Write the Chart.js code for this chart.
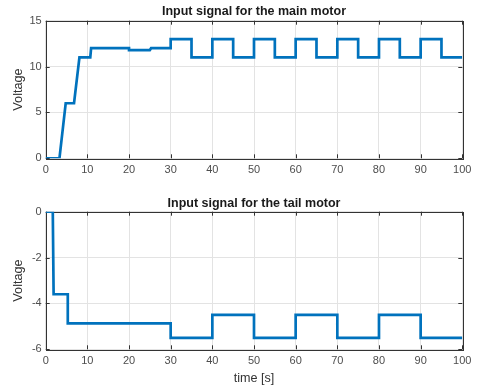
<!DOCTYPE html>
<html lang="en">
<head>
  <meta charset="UTF-8" />
  <title>Input signals</title>
  <script src="https://cdn.jsdelivr.net/npm/chart.js"></script>
  <style>
    html, body { margin: 0; padding: 0; background: #fff; }
    body { width: 477px; height: 389px; position: relative; overflow: hidden; }
    .plot { position: absolute; left: 0; width: 477px; }
    #mainBox { top: 0; height: 190px; }
    #tailBox { top: 190px; height: 199px; }
  </style>
</head>
<body>
  <div id="mainBox" class="plot"><canvas id="mainChart"></canvas></div>
  <div id="tailBox" class="plot"><canvas id="tailChart"></canvas></div>

  <script>
    // breakpoints
    const mainTime = [0, 3.3, 4.8, 6.8, 8.1, 10.7, 10.9, 20, 20, 25, 25.3, 30, 30, 35, 35, 40, 40, 45, 45, 50, 50, 55, 55, 60, 60, 65, 65, 70, 70, 75, 75, 80, 80, 85, 85, 90, 90, 95, 95, 100];
    const mainVolt = [0, 0, 6, 6, 11, 11, 12, 12, 11.8, 11.8, 12, 12, 13, 13, 11, 11, 13, 13, 11, 11, 13, 13, 11, 11, 13, 13, 11, 11, 13, 13, 11, 11, 13, 13, 11, 11, 13, 13, 11, 11];
    const tailTime = [0, 1.7, 1.9, 5.3, 5.3, 30, 30, 40, 40, 50, 50, 60, 60, 70, 70, 80, 80, 90, 90, 100];
    const tailVolt = [0, 0, -3.6, -3.6, -4.87, -4.87, -5.5, -5.5, -4.5, -4.5, -5.5, -5.5, -4.5, -4.5, -5.5, -5.5, -4.5, -4.5, -5.5, -5.5];

    const timeTicks = [0, 10, 20, 30, 40, 50, 60, 70, 80, 90, 100];
    const mainTicks = [0, 5, 10, 15];
    const tailTicks = [-6, -4, -2, 0];

    const FONT = "'Liberation Sans', Arial, Helvetica, sans-serif";

    // MATLAB style box with inward tick marks
    const boxPlugin = {
      id: 'box',
      beforeDatasetsDraw(chart) {
        const { ctx, chartArea: a, scales } = chart;
        ctx.save();
        ctx.strokeStyle = '#333';
        ctx.lineWidth = 1;
        ctx.beginPath();
        scales.x.ticks.forEach(t => {
          const px = Math.round(scales.x.getPixelForValue(t.value)) + 0.5;
          ctx.moveTo(px, a.bottom); ctx.lineTo(px, a.bottom - 4);
          ctx.moveTo(px, a.top); ctx.lineTo(px, a.top + 4);
        });
        scales.y.ticks.forEach(t => {
          const py = Math.round(scales.y.getPixelForValue(t.value)) + 0.5;
          ctx.moveTo(a.left, py); ctx.lineTo(a.left + 4, py);
          ctx.moveTo(a.right, py); ctx.lineTo(a.right - 4, py);
        });
        ctx.stroke();
        ctx.strokeRect(Math.round(a.left) + 0.5, Math.round(a.top) + 0.5,
          Math.round(a.right - a.left), Math.round(a.bottom - a.top));
        ctx.restore();
      }
    };

    function makeChart(id, time, volt, yTicks, titleText, dims) {
      const ctx = document.getElementById(id).getContext('2d');
      return new Chart(ctx, {
        type: 'line',
        data: {
          datasets: [{
            data: time.map((t, i) => ({ x: t, y: volt[i] })),
            borderColor: '#0072BD',
            borderWidth: 2.7,
            pointRadius: 0,
            tension: 0,
            fill: false
          }]
        },
        options: {
          responsive: true,
          maintainAspectRatio: false,
          animation: false,
          layout: { padding: { left: 0, right: 14.7, top: 0, bottom: 0 } },
          plugins: {
            legend: { display: false },
            tooltip: { enabled: false },
            title: {
              display: true,
              text: titleText,
              fullSize: false,
              color: '#1a1a1a',
              font: { family: FONT, size: 12.5, weight: 'bold', lineHeight: 1.2 },
              padding: dims.titlePad
            }
          },
          scales: {
            x: {
              type: 'linear',
              min: 0,
              max: 100,
              afterBuildTicks: s => { s.ticks = timeTicks.map(v => ({ value: v })); },
              afterFit: s => { s.height = dims.xHeight; },
              grid: { color: '#e3e3e3', tickLength: 0, drawTicks: false },
              border: { display: false },
              ticks: { color: '#4d4d4d', padding: 5, maxRotation: 0, font: { family: FONT, size: 11 } },
              title: {
                display: !!dims.xTitle,
                text: dims.xTitle || '',
                color: '#333',
                font: { family: FONT, size: 12.6 },
                padding: { top: 0, bottom: 3 }
              }
            },
            y: {
              min: yTicks[0],
              max: yTicks[yTicks.length - 1],
              afterBuildTicks: s => { s.ticks = yTicks.map(v => ({ value: v })); },
              afterFit: s => { s.width = 45.7; },
              grid: { color: '#e3e3e3', tickLength: 0, drawTicks: false },
              border: { display: false },
              ticks: { color: '#4d4d4d', padding: 4, font: { family: FONT, size: 11 } },
              title: {
                display: true,
                text: 'Voltage',
                color: '#333',
                font: { family: FONT, size: 12.7 },
                padding: { top: 11, bottom: 0 }
              }
            }
          }
        },
        plugins: [boxPlugin]
      });
    }

    makeChart('mainChart', mainTime, mainVolt, mainTicks, 'Input signal for the main motor',
      { titlePad: { top: 4.2, bottom: 1.5 }, xHeight: 31.7 });
    makeChart('tailChart', tailTime, tailVolt, tailTicks, 'Input signal for the tail motor',
      { titlePad: { top: 5.8, bottom: 0.9 }, xHeight: 39.7, xTitle: 'time [s]' });
  </script>
</body>
</html>
